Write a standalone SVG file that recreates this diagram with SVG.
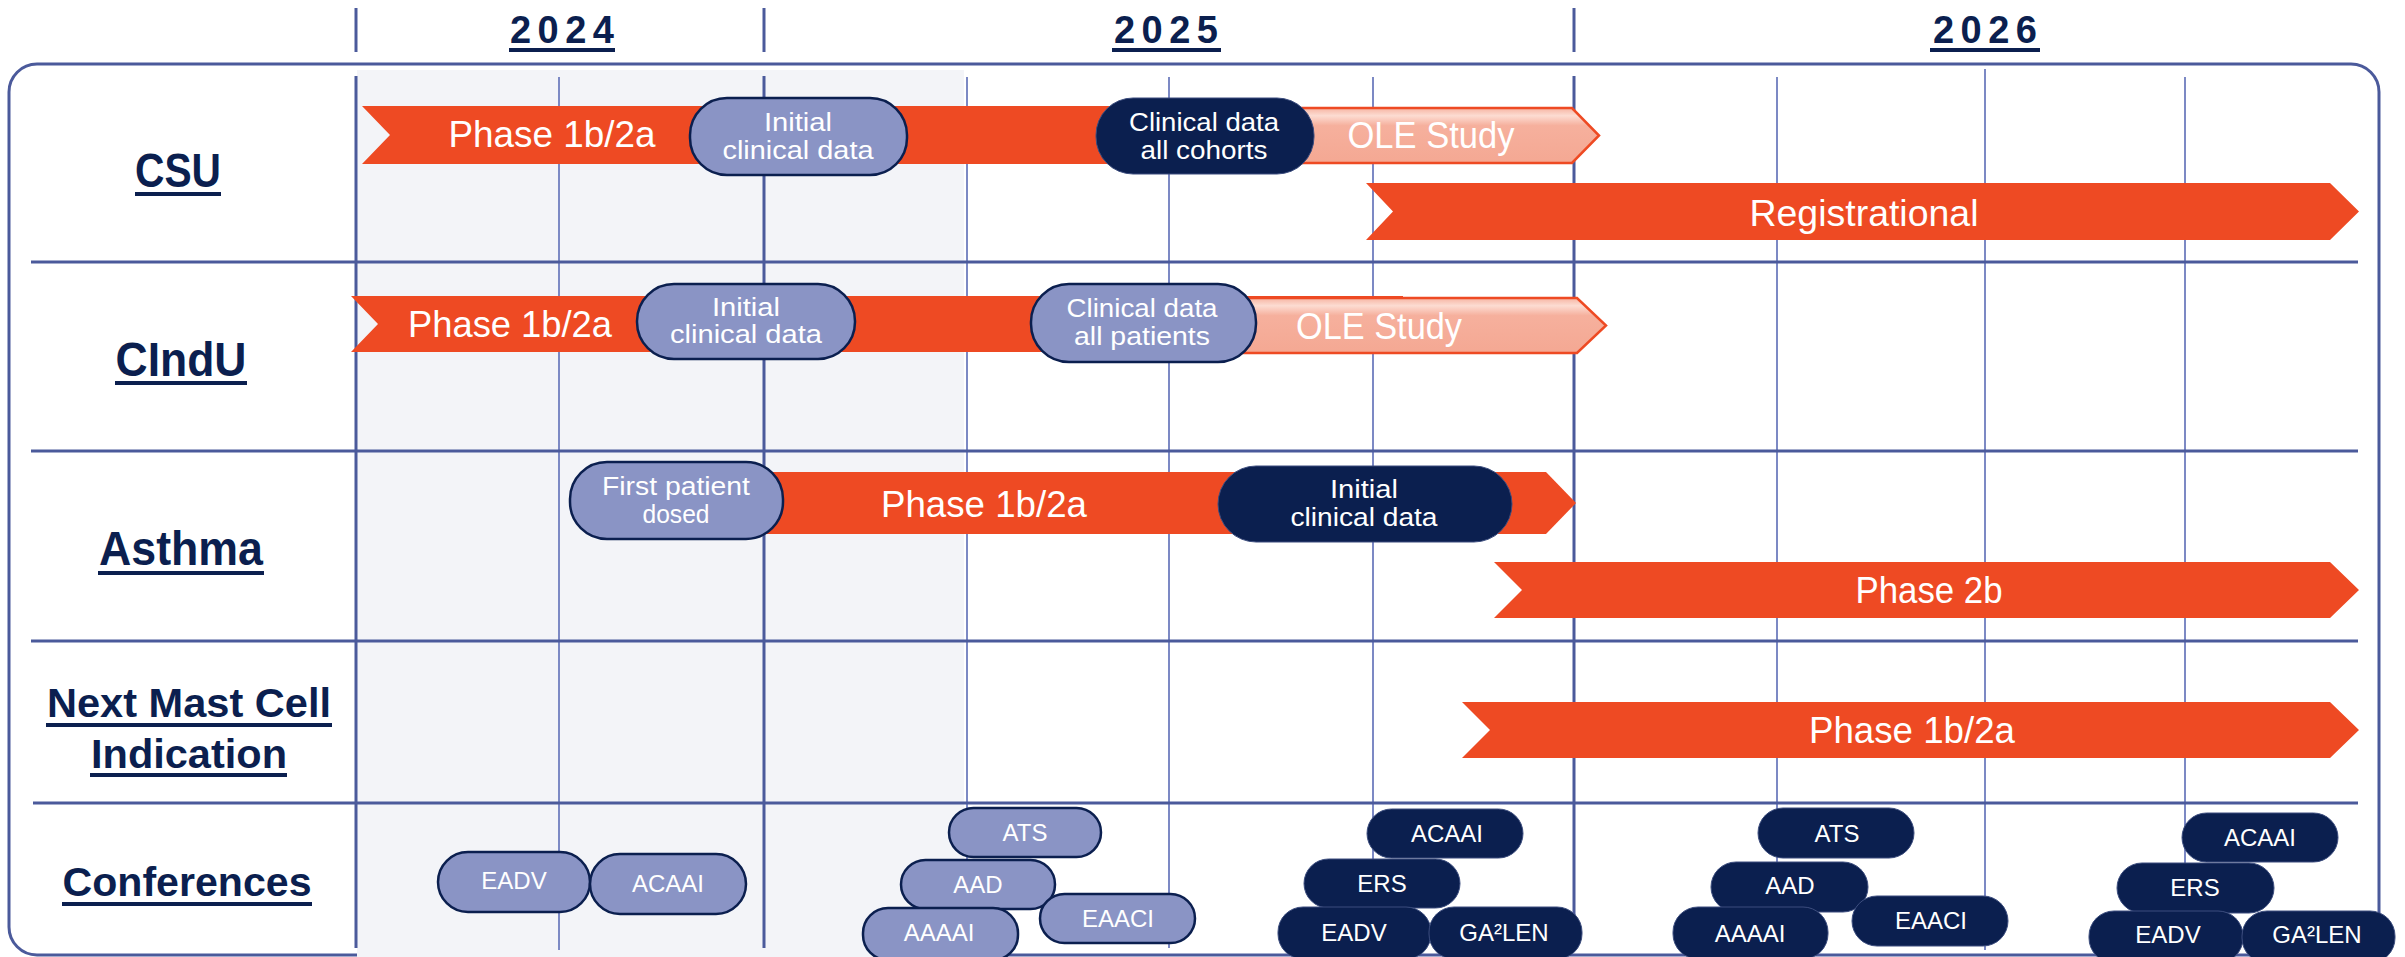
<svg xmlns="http://www.w3.org/2000/svg" width="2405" height="957" viewBox="0 0 2405 957">
<defs>
<linearGradient id="oleGrad" x1="0" y1="0" x2="0" y2="1">
<stop offset="0" stop-color="#f6b4a2"/>
<stop offset="0.14" stop-color="#fcdcd2"/>
<stop offset="0.32" stop-color="#f6b09d"/>
<stop offset="1" stop-color="#f4a893"/>
</linearGradient>
<style>
.major{stroke:#4b5a9b;stroke-width:3;fill:none}
.minor{stroke:#7c89c4;stroke-width:2;fill:none}
.bar{fill:#ee4a23}
.ole{fill:url(#oleGrad);stroke:#ee4a23;stroke-width:2.5}
.pl{fill:#8a94c5;stroke:#0b1f4f;stroke-width:2.5}
.pn{fill:#0b1f4f;stroke:#3c4d7e;stroke-width:1}
.bt{font-family:"Liberation Sans",Arial,sans-serif;font-size:36px;fill:#ffffff;text-anchor:middle}
.pt{font-family:"Liberation Sans",Arial,sans-serif;font-size:25px;fill:#ffffff;text-anchor:middle}
.ct{font-family:"Liberation Sans",Arial,sans-serif;font-size:24px;fill:#ffffff;text-anchor:middle}
.yr{font-family:"Liberation Sans",Arial,sans-serif;font-size:38px;font-weight:bold;fill:#0b1f4f;text-anchor:middle}
.rl{font-family:"Liberation Sans",Arial,sans-serif;font-size:48px;font-weight:bold;fill:#0b1f4f;text-anchor:middle}
.rs{font-family:"Liberation Sans",Arial,sans-serif;font-size:40px;font-weight:bold;fill:#0b1f4f;text-anchor:middle}
.ul{fill:#0b1f4f}
</style>
</defs>
<rect width="2405" height="957" fill="#ffffff"/>

<g id="frame">
<rect x="9" y="64" width="2370" height="891" rx="28" ry="28" fill="none" stroke="#4b5a9b" stroke-width="3"/>
<rect x="357" y="70" width="607" height="887" fill="#f3f4f8"/>
</g>

<g id="years">
<line class="major" x1="356" y1="8" x2="356" y2="52"/>
<line class="major" x1="764" y1="8" x2="764" y2="52"/>
<line class="major" x1="1574" y1="8" x2="1574" y2="52"/>
<text class="yr" x="562" y="43" textLength="104" lengthAdjust="spacing">2024</text>
<rect class="ul" x="509" y="48" width="106" height="4"/>
<text class="yr" x="1166" y="43" textLength="104" lengthAdjust="spacing">2025</text>
<rect class="ul" x="1112" y="48" width="109" height="4"/>
<text class="yr" x="1985" y="43" textLength="104" lengthAdjust="spacing">2026</text>
<rect class="ul" x="1930" y="48" width="110" height="4"/>
</g>

<g id="grid">
<line class="minor" x1="559" y1="77" x2="559" y2="950"/>
<line class="minor" x1="967" y1="77" x2="967" y2="950"/>
<line class="minor" x1="1169" y1="77" x2="1169" y2="948"/>
<line class="minor" x1="1373" y1="77" x2="1373" y2="950"/>
<line class="minor" x1="1777" y1="77" x2="1777" y2="950"/>
<line class="minor" x1="1985" y1="69" x2="1985" y2="950"/>
<line class="minor" x1="2185" y1="77" x2="2185" y2="950"/>
<line class="major" x1="356" y1="76" x2="356" y2="948"/>
<line class="major" x1="764" y1="76" x2="764" y2="948"/>
<line class="major" x1="1574" y1="76" x2="1574" y2="950"/>
<line class="major" x1="31" y1="262" x2="2358" y2="262"/>
<line class="major" x1="31" y1="451" x2="2358" y2="451"/>
<line class="major" x1="31" y1="641" x2="2358" y2="641"/>
<line class="major" x1="33" y1="803" x2="2358" y2="803"/>
</g>

<g id="row-labels">
<g id="label-csu">
<text class="rl" x="178" y="187" textLength="86" lengthAdjust="spacingAndGlyphs">CSU</text>
<rect class="ul" x="135" y="192" width="86" height="4"/>
</g>
<g id="label-cindu">
<text class="rl" x="181" y="376" textLength="131" lengthAdjust="spacingAndGlyphs">CIndU</text>
<rect class="ul" x="115" y="381" width="132" height="4"/>
</g>
<g id="label-asthma">
<text class="rl" x="181" y="565" textLength="164" lengthAdjust="spacingAndGlyphs">Asthma</text>
<rect class="ul" x="98" y="571" width="166" height="4"/>
</g>
<g id="label-next">
<text class="rs" x="189" y="717" textLength="284" lengthAdjust="spacingAndGlyphs">Next Mast Cell</text>
<rect class="ul" x="46" y="723" width="286" height="4"/>
<text class="rs" x="189" y="768" textLength="196" lengthAdjust="spacingAndGlyphs">Indication</text>
<rect class="ul" x="90" y="773" width="197" height="4"/>
</g>
<g id="label-conferences">
<text class="rs" x="187" y="896" textLength="249" lengthAdjust="spacingAndGlyphs">Conferences</text>
<rect class="ul" x="62" y="902" width="250" height="4"/>
</g>
</g>

<g id="csu">
<g id="csu-phase">
<polygon class="bar" points="362,106 1200,106 1200,164 362,164 390,135"/>
<text class="bt" x="552" y="147" textLength="207" lengthAdjust="spacingAndGlyphs">Phase 1b/2a</text>
</g>
<g id="csu-ole">
<polygon class="ole" points="1250,108 1572,108 1599,135.5 1572,163 1250,163"/>
<text class="bt" x="1431" y="148" textLength="167" lengthAdjust="spacingAndGlyphs">OLE Study</text>
</g>
<g id="csu-initial">
<rect class="pl" x="690" y="98" width="217" height="77" rx="37" ry="37"/>
<text class="pt" x="798" y="131" textLength="68" lengthAdjust="spacingAndGlyphs">Initial</text>
<text class="pt" x="798" y="159" textLength="151" lengthAdjust="spacingAndGlyphs">clinical data</text>
</g>
<g id="csu-cohorts">
<rect class="pn" x="1096" y="98" width="218" height="76" rx="37" ry="37"/>
<text class="pt" x="1204" y="131" textLength="150" lengthAdjust="spacingAndGlyphs">Clinical data</text>
<text class="pt" x="1204" y="159" textLength="127" lengthAdjust="spacingAndGlyphs">all cohorts</text>
</g>
<g id="csu-registrational">
<polygon class="bar" points="1366,183 2330,183 2359,211.5 2330,240 1366,240 1393,211.5"/>
<text class="bt" x="1864" y="226" textLength="229" lengthAdjust="spacingAndGlyphs">Registrational</text>
</g>
</g>

<g id="cindu">
<g id="cindu-phase">
<polygon class="bar" points="351,296 1403,296 1403,352 351,352 378,324"/>
<text class="bt" x="510" y="337" textLength="204" lengthAdjust="spacingAndGlyphs">Phase 1b/2a</text>
</g>
<g id="cindu-ole">
<polygon class="ole" points="1240,298 1577,298 1606,325.5 1577,353 1240,353"/>
<text class="bt" x="1379" y="339" textLength="166" lengthAdjust="spacingAndGlyphs">OLE Study</text>
</g>
<g id="cindu-initial">
<rect class="pl" x="637" y="284" width="218" height="75" rx="37" ry="37"/>
<text class="pt" x="746" y="316" textLength="68" lengthAdjust="spacingAndGlyphs">Initial</text>
<text class="pt" x="746" y="343" textLength="152" lengthAdjust="spacingAndGlyphs">clinical data</text>
</g>
<g id="cindu-patients">
<rect class="pl" x="1031" y="284" width="225" height="78" rx="38" ry="38"/>
<text class="pt" x="1142" y="317" textLength="151" lengthAdjust="spacingAndGlyphs">Clinical data</text>
<text class="pt" x="1142" y="345" textLength="136" lengthAdjust="spacingAndGlyphs">all patients</text>
</g>
</g>

<g id="asthma">
<g id="asthma-phase">
<polygon class="bar" points="760,472 1546,472 1576,503 1546,534 760,534"/>
<text class="bt" x="984" y="517" textLength="206" lengthAdjust="spacingAndGlyphs">Phase 1b/2a</text>
</g>
<g id="asthma-first">
<rect class="pl" x="570" y="462" width="213" height="77" rx="37" ry="37"/>
<text class="pt" x="676" y="495" textLength="148" lengthAdjust="spacingAndGlyphs">First patient</text>
<text class="pt" x="676" y="523" textLength="67" lengthAdjust="spacingAndGlyphs">dosed</text>
</g>
<g id="asthma-initial">
<rect class="pn" x="1218" y="466" width="294" height="76" rx="38" ry="38"/>
<text class="pt" x="1364" y="498" textLength="68" lengthAdjust="spacingAndGlyphs">Initial</text>
<text class="pt" x="1364" y="526" textLength="147" lengthAdjust="spacingAndGlyphs">clinical data</text>
</g>
<g id="asthma-phase2b">
<polygon class="bar" points="1494,562 2330,562 2359,590 2330,618 1494,618 1522,590"/>
<text class="bt" x="1929" y="603" textLength="147" lengthAdjust="spacingAndGlyphs">Phase 2b</text>
</g>
</g>

<g id="next-mast-cell">
<polygon class="bar" points="1462,702 2330,702 2359,730 2330,758 1462,758 1490,730"/>
<text class="bt" x="1912" y="743" textLength="206" lengthAdjust="spacingAndGlyphs">Phase 1b/2a</text>
</g>

<g id="conferences">
<g id="c24-eadv"><rect class="pl" x="438" y="852" width="152" height="60" rx="30"/><text class="ct" x="514" y="889">EADV</text></g>
<g id="c24-acaai"><rect class="pl" x="590" y="854" width="156" height="60" rx="30"/><text class="ct" x="668" y="892">ACAAI</text></g>

<g id="c25-ats"><rect class="pl" x="949" y="808" width="152" height="49" rx="24.5"/><text class="ct" x="1025" y="841">ATS</text></g>
<g id="c25-aad"><rect class="pl" x="901" y="860" width="154" height="49" rx="24.5"/><text class="ct" x="978" y="893">AAD</text></g>
<g id="c25-aaaai"><rect class="pl" x="863" y="908" width="155" height="52" rx="25"/><text class="ct" x="939" y="941">AAAAI</text></g>
<g id="c25-eaaci"><rect class="pl" x="1040" y="894" width="155" height="49" rx="24.5"/><text class="ct" x="1118" y="927">EAACI</text></g>

<g id="c25-acaai"><rect class="pn" x="1367" y="809" width="156" height="49" rx="24.5"/><text class="ct" x="1447" y="842">ACAAI</text></g>
<g id="c25-ers"><rect class="pn" x="1304" y="859" width="156" height="49" rx="24.5"/><text class="ct" x="1382" y="892">ERS</text></g>
<g id="c25-eadv"><rect class="pn" x="1278" y="907" width="153" height="52" rx="25"/><text class="ct" x="1354" y="941">EADV</text></g>
<g id="c25-galen"><rect class="pn" x="1429" y="907" width="153" height="52" rx="25"/><text class="ct" x="1504" y="941">GA²LEN</text></g>

<g id="c26-ats"><rect class="pn" x="1758" y="808" width="156" height="50" rx="25"/><text class="ct" x="1837" y="842">ATS</text></g>
<g id="c26-aad"><rect class="pn" x="1711" y="862" width="157" height="50" rx="25"/><text class="ct" x="1790" y="894">AAD</text></g>
<g id="c26-aaaai"><rect class="pn" x="1673" y="907" width="155" height="52" rx="25"/><text class="ct" x="1750" y="942">AAAAI</text></g>
<g id="c26-eaaci"><rect class="pn" x="1852" y="896" width="156" height="50" rx="25"/><text class="ct" x="1931" y="929">EAACI</text></g>
<g id="c26-acaai"><rect class="pn" x="2182" y="813" width="156" height="49" rx="24.5"/><text class="ct" x="2260" y="846">ACAAI</text></g>
<g id="c26-ers"><rect class="pn" x="2117" y="863" width="157" height="50" rx="25"/><text class="ct" x="2195" y="896">ERS</text></g>
<g id="c26-eadv"><rect class="pn" x="2089" y="911" width="154" height="52" rx="25"/><text class="ct" x="2168" y="943">EADV</text></g>
<g id="c26-galen"><rect class="pn" x="2242" y="911" width="153" height="52" rx="25"/><text class="ct" x="2317" y="943">GA²LEN</text></g>
</g>

<g id="connectors"/>
</svg>
